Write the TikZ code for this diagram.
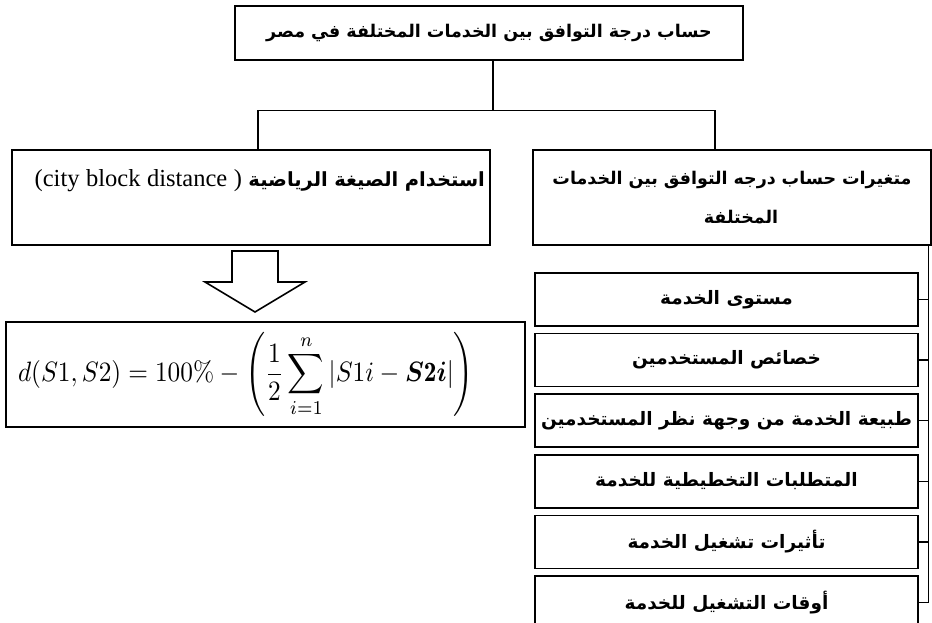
\documentclass[tikz,border=0pt]{standalone}
\usepackage{amsmath}
\usepackage{fontspec}
\usepackage{tikz}
\usetikzlibrary{positioning,calc}
\newfontfamily\arabicfont[Script=Arabic]{DejaVu Sans}
\newfontfamily\latinserif{Liberation Serif}
\TeXXeTstate=1

\begin{document}
\begin{tikzpicture}[
  x=1pt, y=1pt,
  box/.style={rectangle, draw, line width=1.6pt, inner sep=5pt, font=\arabicfont\bfseries\fontsize{17.5}{39}\selectfont, align=center},
  item/.style={box, minimum width=383pt, minimum height=53pt, font=\arabicfont\bfseries\fontsize{18.5}{22}\selectfont},
  link/.style={line width=1.3pt}
]
\useasboundingbox (0,0) rectangle (932,-623);

\node[box, minimum width=508pt, minimum height=54pt] (title) at (489,-33) {\beginR حساب درجة التوافق بين الخدمات المختلفة في مصر\endR};

\node[box, minimum height=95pt, text width=468pt, align=right, font=\arabicfont\bfseries\fontsize{19.5}{39}\selectfont] (method) at (251,-197.5) {\beginR استخدام الصيغة الرياضية \beginL{\latinserif\mdseries\fontsize{24.5}{39}\selectfont(city block distance )}\endL\endR\\\mbox{}};
\node[box, minimum height=95pt, text width=388pt] (vars) at (732,-197.5) {\beginR متغيرات حساب درجه التوافق بين الخدمات\endR\\\hspace*{18pt}\beginR المختلفة\endR};

\draw[link] ([xshift=4pt]title.south) -- ++(0,-50) coordinate (fork);
\draw[link] (fork) -| ([xshift=7pt]method.north);
\draw[link] (fork) -| ([xshift=-17pt]vars.north);

\draw[line width=1.6pt] (232,-251) -- (278,-251) -- (278,-282) -- (305,-282) -- (255,-312) -- (205,-282) -- (232,-282) -- cycle;

\node[box, minimum height=105pt, text width=509pt, align=left, font=\fontsize{10}{12}\selectfont] (formula) at (265.5,-374.5) {\hspace*{7pt}\scalebox{2.53}[2.8]{$\displaystyle d(S1,S2)=100\%-\left(\frac{1}{2}\sum_{i=1}^{n}|S1i-\boldsymbol{S}\mathbf{2}\boldsymbol{i}|\right)$}};

\node[item] (lvl) at (726.5,-299.5) {\beginR مستوى الخدمة\endR};
\node[item, below=6pt of lvl] (users) {\beginR خصائص المستخدمين\endR};
\node[item, below=6pt of users] (nature) {\beginR طبيعة الخدمة من وجهة نظر المستخدمين\endR};
\node[item, below=6pt of nature] (plan) {\beginR المتطلبات التخطيطية للخدمة\endR};
\node[item, below=6pt of plan] (effects) {\beginR تأثيرات تشغيل الخدمة\endR};
\node[item, below=6pt of effects] (times) {\beginR أوقات التشغيل للخدمة\endR};

\coordinate (spine) at ([xshift=-3pt]vars.south east);
\draw[link] (spine) -- (spine |- times.east);
\foreach \n in {lvl,users,nature,plan,effects,times}
  \draw[link] (\n.east) -- (\n.east -| spine);

\end{tikzpicture}
\end{document}
